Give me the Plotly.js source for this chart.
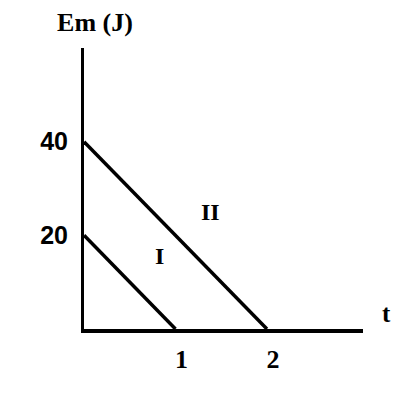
<!DOCTYPE html>
<html>
<head>
<meta charset="utf-8">
<script src="https://cdn.plot.ly/plotly-3.0.1.min.js"></script>
<style>
  html, body { margin: 0; padding: 0; background: #fff; }
  #chart { width: 400px; height: 400px; }
</style>
</head>
<body>
<div id="chart"></div>
<script>
var CHART = document.getElementById('chart');

// line I and line II: mechanical energy against time
var t_one = [0, 1];
var em_one = [20, 0];
var t_two = [0, 2];
var em_two = [40, 0];

var x_ticks = [1, 2];
var x_tick_text = ['1', '2'];
var y_ticks = [20, 40];
var y_tick_text = ['20', '40'];

var line_names = ['I', 'II'];
var name_x = [0.82, 1.38];
var name_y = [15.6, 25];

var trace1 = {
  x: t_one,
  y: em_one,
  type: 'scatter',
  mode: 'lines',
  line: {color: '#000', width: 3.5},
  hoverinfo: 'skip'
};
var trace2 = {
  x: t_two,
  y: em_two,
  type: 'scatter',
  mode: 'lines',
  line: {color: '#000', width: 3.5},
  hoverinfo: 'skip'
};

var serif = '"Liberation Serif", "DejaVu Serif", serif';
var sans = '"Liberation Sans", Arial, sans-serif';

var notes = [];
for (let i = 0; i < line_names.length; i++) {
  notes.push({
    x: name_x[i], y: name_y[i], xref: 'x', yref: 'y',
    text: line_names[i], showarrow: false,
    font: {family: serif, size: 24, color: '#000', weight: 'bold'}
  });
}

// the "t" label sits to the right of the axis end, convert pixels to paper units
var pw = 400 - 84 - 37;
var ph = 400 - 48 - 71;
notes.push({
  x: (393 - 84) / pw, y: (400 - 71 - 329) / ph, xref: 'paper', yref: 'paper',
  text: 't', showarrow: false,
  font: {family: serif, size: 25, color: '#000', weight: 'bold'}
});

var layout = {
  width: 400,
  height: 400,
  margin: {l: 84, r: 37, t: 48, b: 71},
  paper_bgcolor: '#fff',
  plot_bgcolor: '#fff',
  showlegend: false,
  title: {
    text: 'Em (J)',
    xref: 'container', yref: 'container',
    x: 95 / 400, xanchor: 'center',
    y: 1 - 22 / 400, yanchor: 'middle',
    font: {family: serif, size: 26, color: '#000', weight: 'bold'}
  },
  xaxis: {
    range: [0, 3.05],
    showgrid: false,
    zeroline: false,
    showline: true,
    linecolor: '#000',
    linewidth: 4,
    ticks: '',
    tickvals: x_ticks,
    ticktext: x_tick_text,
    tickfont: {family: serif, size: 26, color: '#000', weight: 'bold'},
    ticklabelshift: 6,
    ticklabelstandoff: 4,
    fixedrange: true
  },
  yaxis: {
    range: [0, 60],
    showgrid: false,
    zeroline: false,
    showline: true,
    linecolor: '#000',
    linewidth: 3,
    ticks: '',
    tickvals: y_ticks,
    ticktext: y_tick_text,
    tickfont: {family: sans, size: 25, color: '#000', weight: 'bold'},
    ticklabelstandoff: 8,
    fixedrange: true
  },
  annotations: notes
};

Plotly.newPlot(CHART, [trace1, trace2], layout, {staticPlot: true});
</script>
</body>
</html>
